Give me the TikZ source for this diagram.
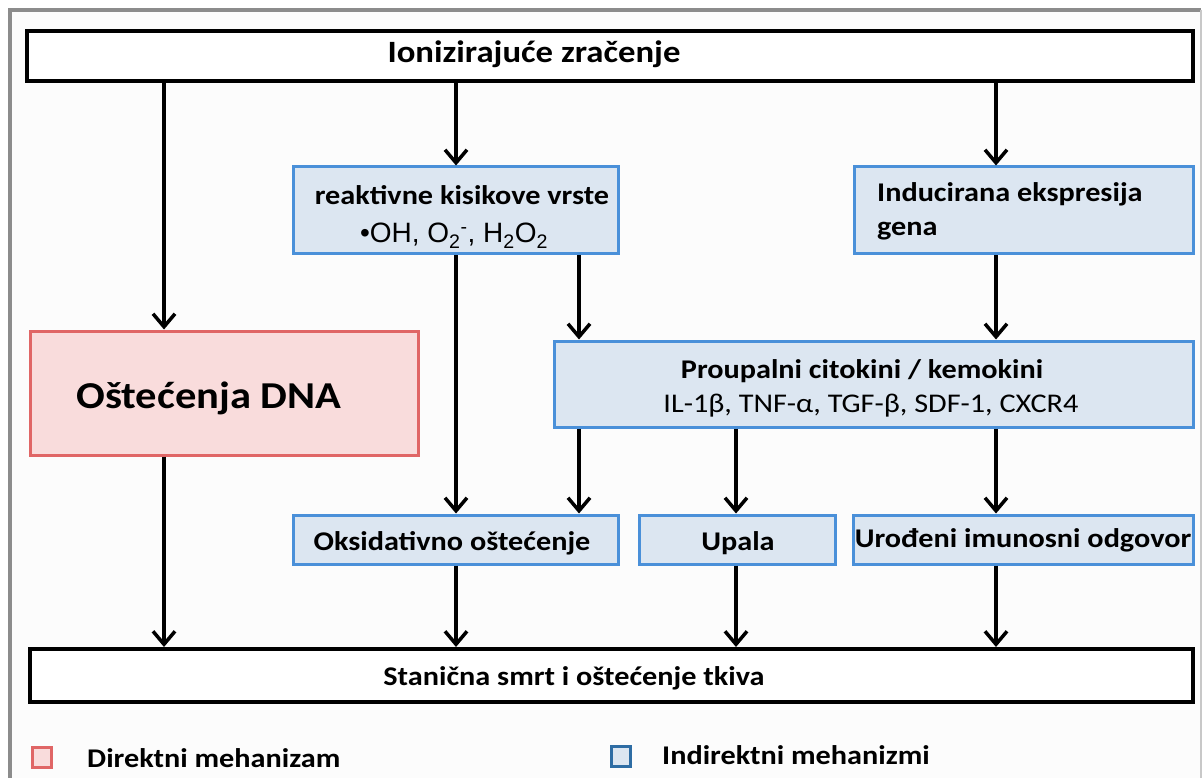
\documentclass[tikz,border=0pt]{standalone}
\usepackage{fontspec}
\setmainfont{Carlito}[FakeStretch=1.12]
\newfontfamily\arialf{Liberation Sans}
\usetikzlibrary{arrows.meta}
\definecolor{bluefill}{HTML}{DCE6F1}
\definecolor{blueline}{HTML}{4A90D9}
\definecolor{pinkfill}{HTML}{F9DCDC}
\definecolor{redline}{HTML}{E06666}
\definecolor{legblue}{HTML}{2E6DA4}
\definecolor{framegray}{HTML}{8C8C8C}
\definecolor{framelight}{HTML}{C8C8C8}
\tikzset{
  blackbox/.style={draw=black, line width=4pt, fill=white, inner sep=0pt},
  bluebox/.style={draw=blueline, line width=3pt, fill=bluefill, inner sep=0pt},
  pinkbox/.style={draw=redline, line width=3pt, fill=pinkfill, inner sep=0pt},
  lbl/.style={inner sep=0pt, anchor=base, font=\fontsize{27}{32}\selectfont\bfseries},
  lblw/.style={lbl, anchor=base west},
  arr/.style={line width=3.5pt, -{Straight Barb[length=13pt,width=22pt,line width=3.5pt]}},
}
\begin{document}
\begin{tikzpicture}[x=1pt,y=-1pt]
\useasboundingbox (0,0) rectangle (1203,778);
\fill[white] (0,0) rectangle (1203,778);
\fill[white!99!black] (10,10) rectangle (1201,778);
\draw[framegray, line width=4pt] (10,778) -- (10,10) -- (1201,10);
\draw[framelight, line width=1.5pt] (1201,10) -- (1201,778);

% columns
\coordinate (c1) at (164,0);
\coordinate (c2) at (456,0);
\coordinate (c3) at (579,0);
\coordinate (c4) at (736,0);
\coordinate (c5) at (996,0);

% boxes
\node[blackbox, minimum width=1166pt, minimum height=50pt] (top) at (610,56) {};
\node[bluebox, minimum width=325pt, minimum height=87pt] (ros) at (455.5,210.5) {};
\node[bluebox, minimum width=339pt, minimum height=87pt] (ind) at (1023.5,210.5) {};
\node[pinkbox, minimum width=388pt, minimum height=124pt] (dna) at (224,393) {};
\node[bluebox, minimum width=639pt, minimum height=86pt] (cit) at (873.5,384) {};
\node[bluebox, minimum width=325pt, minimum height=49pt] (oks) at (455.5,539.5) {};
\node[bluebox, minimum width=196pt, minimum height=49pt] (upa) at (737,539.5) {};
\node[bluebox, minimum width=340pt, minimum height=49pt] (uro) at (1023,539.5) {};
\node[blackbox, minimum width=1163pt, minimum height=53pt] (bot) at (611.5,675.5) {};

% texts
\node[lbl, font=\fontsize{31}{36}\selectfont\bfseries] (ttop) at (534,63) {Ionizirajuće zračenje};
\node[lbl] (tros) at (462,205) {reaktivne kisikove vrste};
\node[lbl, font=\fontsize{28}{32}\selectfont\arialf] (tros2) at (454,243) {•OH, O\textsubscript{2}\textsuperscript{-}, H\textsubscript{2}O\textsubscript{2}};
\node[lblw] (tind) at (877,202) {Inducirana ekspresija};
\node[lblw] (tind2) at (877,236) {gena};
\node[lbl, font=\fontsize{38}{44}\selectfont\bfseries] (tdna) at (209,408) {Oštećenja DNA};
\node[lbl] (tcit) at (862,378) {Proupalni citokini / kemokini};
\node[lbl, font=\fontsize{27}{32}\selectfont] (tcit2) at (871,412) {IL-1β, TNF-α, TGF-β, SDF-1, CXCR4};
\node[lbl] (toks) at (452,550) {Oksidativno oštećenje};
\node[lbl] (tupa) at (738,550) {Upala};
\node[lbl] (turo) at (1023,547) {Urođeni imunosni odgovor};
\node[lbl] (tbot) at (574,685) {Stanična smrt i oštećenje tkiva};

% legend
\node[draw=redline, line width=3pt, fill=pinkfill, minimum width=19pt, minimum height=20pt, inner sep=0pt] (lpink) at (41.5,757.5) {};
\node[draw=legblue, line width=3pt, fill=bluefill, minimum width=19pt, minimum height=20pt, inner sep=0pt] (lblue) at (621,756) {};
\node[lblw] (tlpink) at (87,767) {Direktni mehanizam};
\node[lblw] (tlblue) at (662,764) {Indirektni mehanizmi};

% arrows
\draw[arr] (top.south -| c1) -- (dna.north -| c1);
\draw[arr] (top.south -| c2) -- (ros.north -| c2);
\draw[arr] (top.south -| c5) -- (ind.north -| c5);
\draw[arr] (ros.south -| c3) -- (cit.north -| c3);
\draw[arr] (ind.south -| c5) -- (cit.north -| c5);
\draw[arr] (ros.south -| c2) -- (oks.north -| c2);
\draw[arr] (cit.south -| c3) -- (oks.north -| c3);
\draw[arr] (cit.south -| c4) -- (upa.north -| c4);
\draw[arr] (cit.south -| c5) -- (uro.north -| c5);
\draw[arr] (dna.south -| c1) -- (bot.north -| c1);
\draw[arr] (oks.south -| c2) -- (bot.north -| c2);
\draw[arr] (upa.south -| c4) -- (bot.north -| c4);
\draw[arr] (uro.south -| c5) -- (bot.north -| c5);
\end{tikzpicture}
\end{document}
